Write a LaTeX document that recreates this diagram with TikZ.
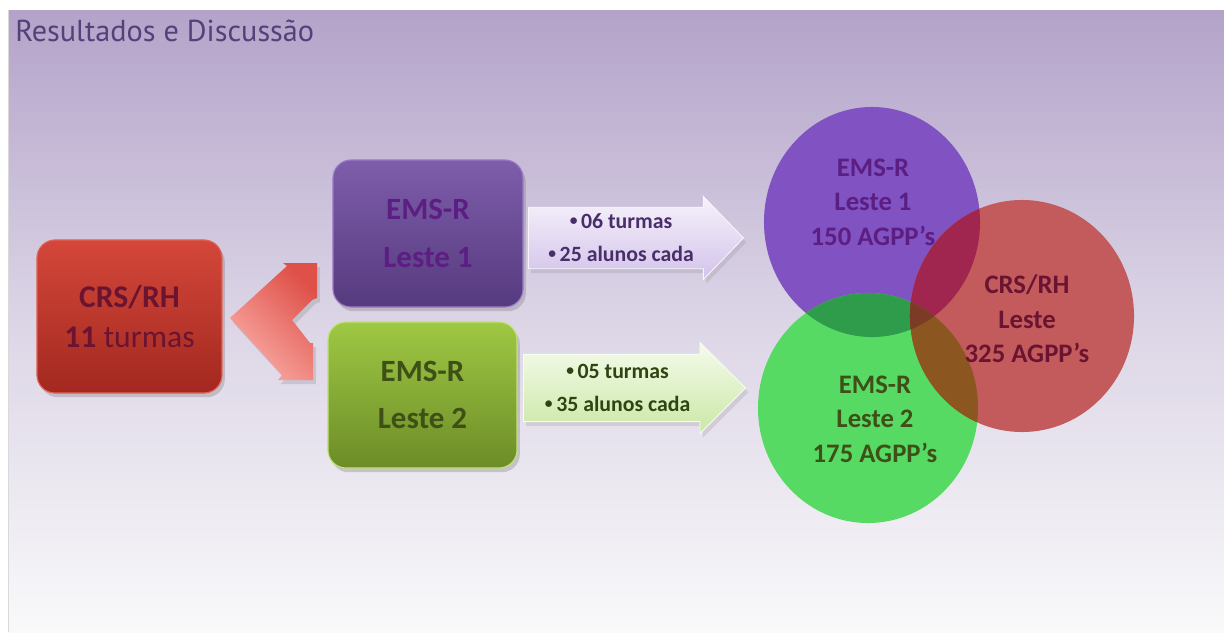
\documentclass[tikz,border=0pt]{standalone}
\usepackage{fontspec}
\setmainfont{Carlito}
\newfontfamily\titlefont{PT Sans}
\usetikzlibrary{positioning, shapes.arrows, shadows}

\definecolor{bgTop}{HTML}{B3A3C9}
\definecolor{bgMid}{HTML}{DCD5E6}
\definecolor{bgBot}{HTML}{F9F9FA}
\definecolor{titleInk}{HTML}{54407A}
\definecolor{crsTop}{HTML}{D4473A}
\definecolor{crsBot}{HTML}{A3281F}
\definecolor{crsEdge}{HTML}{E06458}
\definecolor{crsInk}{HTML}{6B1432}
\definecolor{lilTop}{HTML}{7E5DAB}
\definecolor{lilBot}{HTML}{563A7E}
\definecolor{lilEdge}{HTML}{9C7CC8}
\definecolor{lilInk}{HTML}{5C1E82}
\definecolor{limTop}{HTML}{9FC843}
\definecolor{limBot}{HTML}{6C8C28}
\definecolor{limEdge}{HTML}{C2E27A}
\definecolor{limInk}{HTML}{3E5017}
\definecolor{brTop}{HTML}{DE5048}
\definecolor{brBot}{HTML}{FAACA6}
\definecolor{arALight}{HTML}{F6F2FB}
\definecolor{arADark}{HTML}{D3C3EA}
\definecolor{arAInk}{HTML}{4A2D6B}
\definecolor{arBLight}{HTML}{F5FBEC}
\definecolor{arBDark}{HTML}{CBE8A5}
\definecolor{arBInk}{HTML}{2F4412}
\definecolor{cPur}{HTML}{8152C1}
\definecolor{cRed}{HTML}{C35B5C}
\definecolor{cGrn}{HTML}{57DA63}
\definecolor{cPurRed}{HTML}{A0264F}
\definecolor{cPurGrn}{HTML}{2F9C4B}
\definecolor{cGrnRed}{HTML}{8B561F}
\definecolor{cAll}{HTML}{7C3B24}

\newcommand{\dotitem}{\raisebox{0.28ex}{\fontsize{11pt}{11pt}\selectfont\textbullet}\,}

\begin{document}
\begin{tikzpicture}[
    x=0.025cm, y=-0.025cm,
    box/.style={rectangle, rounded corners=0.45cm, align=center, line width=0.8pt,
        drop shadow={opacity=0.35, shadow xshift=2pt, shadow yshift=-3pt}},
    bigtext/.style={font=\bfseries\fontsize{22pt}{33.5pt}\selectfont},
    infoarrow/.style={single arrow, single arrow head indent=0cm, align=center,
        inner xsep=3pt, inner ysep=3pt, line width=0.6pt, shading angle=-30,
        font=\bfseries\fontsize{15.5pt}{23.5pt}\selectfont,
        drop shadow={opacity=0.2, shadow xshift=2pt, shadow yshift=-3pt}},
    circtext/.style={align=center, font=\bfseries\fontsize{19pt}{24.5pt}\selectfont}
]
\useasboundingbox (0,0) rectangle (1224,632);
\shade[top color=bgTop, bottom color=bgBot, middle color=bgMid] (8,10) rectangle (1224,632);
\draw[gray!30] (8,10) -- (8,632);

\node[anchor=base west, inner sep=0, text=titleInk,
    font=\titlefont\fontsize{21.5pt}{25pt}\selectfont] (title) at (15,41) {Resultados e Discussão};

% left side
\node[box, minimum width=4.625cm, minimum height=3.825cm, top color=crsTop, bottom color=crsBot,
    draw=crsEdge, text=crsInk, font=\fontsize{22.5pt}{29pt}\selectfont] (crs) at (129.5,316.5)
    {\textbf{CRS/RH}\\\textbf{11} turmas};
\node[box, bigtext, minimum width=4.75cm, minimum height=3.675cm, top color=lilTop, bottom color=lilBot,
    draw=lilEdge, text=lilInk] (lesteA) at (428,233.5) {EMS-R\\Leste 1};
\node[box, bigtext, minimum width=4.725cm, minimum height=3.65cm, top color=limTop, bottom color=limBot,
    draw=limEdge, text=limInk] (lesteB) at (422.5,395) {EMS-R\\Leste 2};

\shade[top color=brTop, bottom color=brBot, shading angle=-45,
    drop shadow={opacity=0.25, shadow xshift=2pt, shadow yshift=-3pt}]
    (230,318) -- (287,266) -- (283,263) -- (317,263) -- (317,298) -- (312,300)
    -- (292,320) -- (310,343) -- (313,343) -- (313,380) -- (278,380) -- (282,375) -- cycle;

% arrows with the classes
\node[infoarrow, anchor=tail, minimum height=5.375cm, minimum width=2.075cm,
    single arrow tip angle=92, top color=arALight, bottom color=arADark,
    draw=white!85!arADark, text=arAInk] (arrA) at (528,238)
    {\dotitem 06 turmas\\\dotitem 25 alunos cada};
\node[infoarrow, anchor=tail, minimum height=5.55cm, minimum width=2.275cm,
    single arrow tip angle=90, top color=arBLight, bottom color=arBDark,
    draw=white!85!arBDark, text=arBInk] (arrB) at (523,388)
    {\dotitem 05 turmas\\\dotitem 35 alunos cada};

% circles
\coordinate (cA) at (872,222);
\coordinate (cB) at (1022,316);
\coordinate (cC) at (868,408);
\fill[cPur] (cA) ellipse [x radius=2.7cm, y radius=2.875cm];
\fill[cGrn] (cC) ellipse [x radius=2.75cm, y radius=2.875cm];
\fill[cRed] (cB) ellipse [x radius=2.8cm, y radius=2.9cm];
\begin{scope}
  \clip (cA) ellipse [x radius=2.7cm, y radius=2.875cm];
  \fill[cPurRed] (cB) ellipse [x radius=2.8cm, y radius=2.9cm];
  \fill[cPurGrn] (cC) ellipse [x radius=2.75cm, y radius=2.875cm];
  \clip (cB) ellipse [x radius=2.8cm, y radius=2.9cm];
  \fill[cAll] (cC) ellipse [x radius=2.75cm, y radius=2.875cm];
\end{scope}
\begin{scope}
  \clip (cB) ellipse [x radius=2.8cm, y radius=2.9cm];
  \clip (cC) ellipse [x radius=2.75cm, y radius=2.875cm];
  \fill[cGrnRed] (cA) ++(-200,-200) rectangle ++(400,400);
  \clip (cA) ellipse [x radius=2.7cm, y radius=2.875cm];
  \fill[cAll] (cA) ++(-200,-200) rectangle ++(400,400);
\end{scope}

\node[circtext, text=lilInk] (circA) at (873,202) {EMS-R\\Leste 1\\150 AGPP’s};
\node[circtext, text=crsInk] (circB) at (1027,319) {CRS/RH\\Leste\\325 AGPP’s};
\node[circtext, text=limInk] (circC) at (875,419) {EMS-R\\Leste 2\\175 AGPP’s};
\end{tikzpicture}
\end{document}
